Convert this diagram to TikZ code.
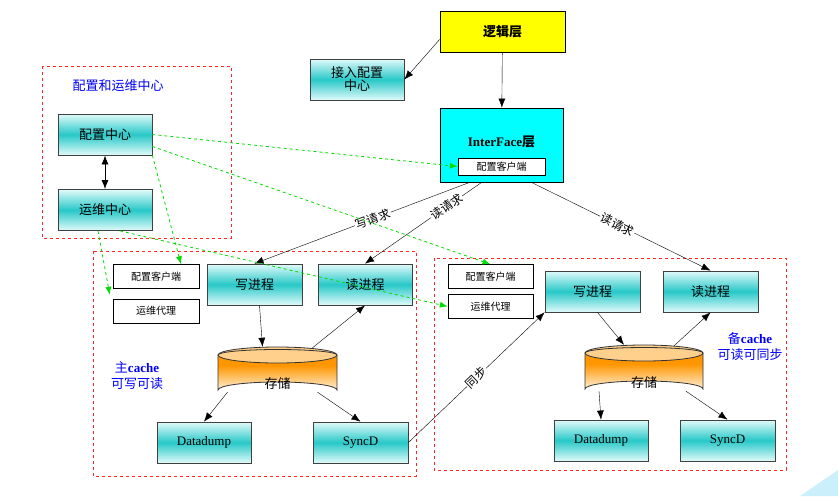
\documentclass[tikz,border=0pt]{standalone}
\usepackage{fontspec}
\setmainfont{Liberation Serif}
\newfontfamily\cjk{Noto Sans CJK SC}
\usetikzlibrary{arrows.meta}
\definecolor{ifcyan}{RGB}{0,255,255}
\definecolor{tealmid}{RGB}{40,200,200}
\definecolor{tealpale}{RGB}{225,250,250}
\definecolor{ylw}{RGB}{255,255,0}
\definecolor{orng}{RGB}{255,150,0}
\definecolor{orpale}{RGB}{255,240,215}
\definecolor{grn}{RGB}{0,220,0}
\pgfdeclareverticalshading{tealbox}{100bp}{color(0bp)=(tealpale); color(25bp)=(tealpale); color(50bp)=(tealmid); color(75bp)=(tealpale); color(100bp)=(tealpale)}
\pgfdeclareverticalshading{orangecyl}{100bp}{color(0bp)=(orpale); color(25bp)=(orpale); color(60bp)=(orng); color(75bp)=(orng); color(100bp)=(orng)}
\begin{document}
\begin{tikzpicture}[x=1pt,y=-1pt,
  box/.style={draw=black!75,thick,shading=tealbox,minimum width=94pt,minimum height=41pt,inner sep=1pt,font=\cjk\fontsize{13}{15}\selectfont,align=center},
  sbox/.style={draw=black,fill=white,minimum width=86pt,minimum height=24pt,font=\cjk\fontsize{10}{12}\selectfont},
  grp/.style={draw=red!85,dashed,thick},
  arr/.style={-{Latex[length=9pt,width=7pt]},black},
  garr/.style={-{Latex[length=8pt,width=6pt]},grn,dashed,thick},
  lbl/.style={font=\cjk\fontsize{12}{14}\selectfont,fill=white,inner sep=1pt,sloped},
  blue lbl/.style={font=\fontsize{13}{16}\selectfont\bfseries,text=blue,align=center}]
\useasboundingbox (0,0) rectangle (838,496);
\fill[cyan!20] (800,496) -- (838,470) -- (838,496) -- cycle;
% groups
\draw[grp] (42,66) rectangle (231,238);
\node[blue lbl] (t1) at (118,86) {{\cjk\mdseries 配置和运维中心}};
\draw[grp] (93,251) rectangle (416,476);
\draw[grp] (434,258) rectangle (786,470);
\node[blue lbl] (t2) at (137,376) {{\cjk\mdseries 主}cache\\{\cjk\mdseries 可写可读}};
\node[blue lbl] (t3) at (750,347) {{\cjk\mdseries 备}cache\\{\cjk\mdseries 可读可同步}};
% top
\node[draw=black,thick,fill=ylw,minimum width=125pt,minimum height=41pt,font=\cjk\bfseries\fontsize{13}{15}\selectfont] (logic) at (502.5,31.5) {逻辑层};
\node[box] (jr) at (357,79.5) {接入配置\\[-2pt]中心};
\node[draw=black,thick,fill=ifcyan,minimum width=123pt,minimum height=74pt] (if) at (501.5,145) {};
\node[font=\fontsize{13}{15}\selectfont\bfseries] (ift) at (501.5,142) {InterFace{\cjk 层}};
\node[sbox,minimum width=87pt,minimum height=17pt] (ifc) at (501.5,166.5) {配置客户端};
% config center
\node[box] (pz) at (105,134.5) {配置中心};
\node[box] (yw) at (105,210) {运维中心};
% left cache
\node[sbox] (lc) at (156,276.5) {配置客户端};
\node[sbox] (la) at (156,311) {运维代理};
\node[box,minimum width=95pt] (lw) at (254.5,284.5) {写进程};
\node[box] (lr) at (365,284.5) {读进程};
\node[box,font=\fontsize{13}{15}\selectfont] (ld) at (204,442.5) {Datadump};
\node[box,minimum width=95pt,font=\fontsize{13}{15}\selectfont] (ls) at (360.5,442.5) {SyncD};
% right cache
\node[sbox,minimum width=85pt] (rc) at (490.5,276.5) {配置客户端};
\node[sbox,minimum width=85pt] (ra) at (490.5,306.5) {运维代理};
\node[box,minimum width=95pt] (rw) at (592.5,291.5) {写进程};
\node[box,minimum width=95pt] (rr) at (710.5,291.5) {读进程};
\node[box,font=\fontsize{13}{15}\selectfont] (rd) at (601,440.5) {Datadump};
\node[box,minimum width=95pt,font=\fontsize{13}{15}\selectfont] (rs) at (727.5,440.5) {SyncD};
% cylinders
\foreach \n/\cx/\ty/\by/\w in {lst/277.5/347/398/59.5, rst/644/345/397/59}{
  \shade[shading=orangecyl] (\cx-\w,\ty+8) -- (\cx-\w,\by-8) arc[start angle=180,end angle=360,x radius=\w,y radius=8] -- (\cx+\w,\ty+8) -- cycle;
  \draw[thick,black!80] (\cx-\w,\ty+8) -- (\cx-\w,\by-8) arc[start angle=180,end angle=360,x radius=\w,y radius=8] -- (\cx+\w,\ty+8);
  \draw[thick,black!80,fill=orng!45] (\cx,\ty+8) ellipse[x radius=\w,y radius=8];
  \draw[thick,black!80] (\cx-\w,\ty+8) arc[start angle=180,end angle=360,x radius=\w,y radius=5.5];
  \node[inner sep=0,minimum width=2*\w pt,minimum height=\by-\ty pt] (\n) at (\cx,{(\ty+\by)/2}) {};
  \node[font=\cjk\fontsize{13}{15}\selectfont] at (\cx,\by-14) {存储};
}
% coordinates
\path (if.south west) ++(30,0) coordinate (a1);
\path (if.south west) ++(42,0) coordinate (a2);
\path (if.south) ++(30,0) coordinate (a3);
\path (logic.west) ++(0,8) coordinate (lg);
% arrows
\draw[arr] (logic) -- (if);
\draw[arr] (lg) -- (jr.east);
\draw[arr] (a1) -- node[lbl,pos=0.45] {写请求} (lw.north);
\draw[arr] (a2) -- node[lbl,pos=0.3] {读请求} (lr.north);
\draw[arr] (a3) -- node[lbl,pos=0.48] {读请求} (rr.north);
\path (lw.south) ++(5,0) coordinate (p1);
\path (lst.north) ++(-15,0) coordinate (p2);
\path (lst.north) ++(35,1) coordinate (p3);
\path (lst.south) ++(-50,-6) coordinate (p4);
\path (lst.south) ++(40,-6) coordinate (p5);
\draw[arr] (p1) -- (p2);
\draw[arr] (p3) -- (lr.south);
\draw[arr] (p4) -- (ld.north);
\draw[arr] (p5) -- (ls.north);
\path (rw.south) ++(5,0) coordinate (q1);
\path (rst.north) ++(-20,0) coordinate (q2);
\path (rst.north) ++(30,1) coordinate (q3);
\path (rst.south) ++(-45,-6) coordinate (q4);
\path (rst.south) ++(42,-6) coordinate (q5);
\draw[arr] (q1) -- (q2);
\draw[arr] (q3) -- (rr.south);
\draw[arr] (q4) -- (rd.north);
\draw[arr] (q5) -- (rs.north);
\draw[arr] (ls.east) -- node[lbl,pos=0.5] {同步} (rw.south west);
\draw[{Latex[length=9pt,width=7pt]}-{Latex[length=9pt,width=7pt]},thick] (pz) -- (yw);
% green
\path (pz.east) ++(0,12) coordinate (g1);
\path (pz.south east) coordinate (g2);
\path (lc.north) ++(25,0) coordinate (g2e);
\path (yw.south) ++(-7,0) coordinate (g3);
\path (la.north west) ++(-3,-4) coordinate (g3e);
\path (yw.south) ++(15,0) coordinate (g4);
\draw[garr] (pz.east) -- (ifc.west);
\draw[garr] (g1) -- (rc.north);
\draw[garr] (g2) -- (g2e);
\draw[garr] (g3) -- (g3e);
\draw[garr] (g4) -- (ra.west);
\end{tikzpicture}
\end{document}
